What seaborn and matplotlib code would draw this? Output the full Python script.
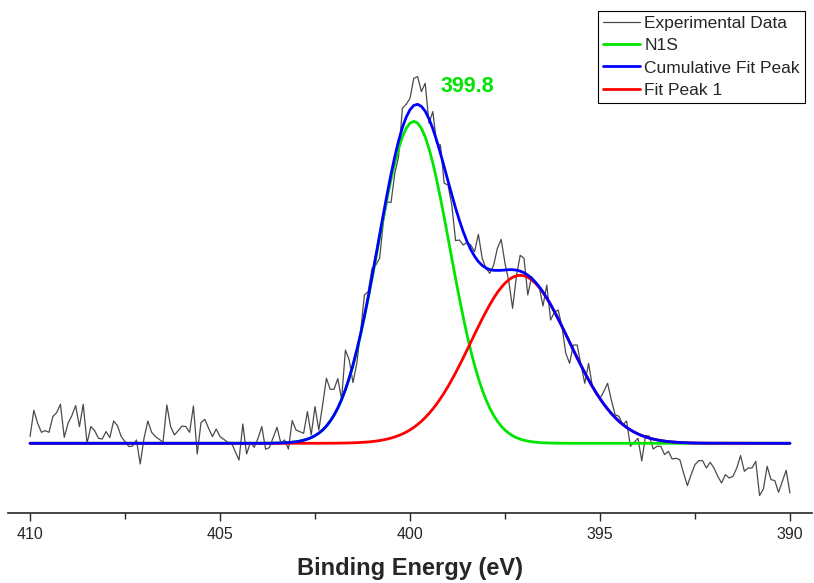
import numpy as np
import pandas as pd
import seaborn as sns
import matplotlib.pyplot as plt
from matplotlib.ticker import MultipleLocator

# Experimental N1s spectrum, 410 -> 390 eV in 0.1 eV steps (intensity, arbitrary units)
energy = np.round(np.linspace(410, 390, 201), 1)
intensity = [
    6.7, 33, 20, 11, 12.7, 11, 26.7, 30.7, 39, 6,
    20, 27.7, 37.7, 16.7, 39, 0, 16.7, 12.7, 5, 4.3,
    11.7, 5.7, 22.3, 17.7, 6.7, 1.7, -3.3, -2.7, 3.3, -20.7,
    5, 22.3, 11, 6.7, 4, 1, 38.3, 16.7, 8.3, 12.7,
    17.3, 16.7, 11, 37.3, -10.7, 20.7, 24, 15, 6.7, 14.3,
    6.7, 4, 1, 0.7, -8.3, -16.7, 19.3, -10.7, 1, -4,
    5, 16.7, -6, -4.3, 6, 16, 0.3, 3.3, -5.7, 22.7,
    13.3, 11.7, 10, 31.7, 8.3, 36.7, 13.3, 38.3, 65, 54,
    54, 64.7, 44, 93.3, 83.3, 60.7, 80, 111.7, 148.3, 151.7,
    175, 178.3, 185, 221.7, 241.7, 240.7, 270, 287, 335, 339,
    345, 365, 366.7, 351.7, 360, 320, 331.7, 300, 298.3, 260,
    258.3, 238.3, 202.7, 203.3, 198.3, 201, 198.3, 191.7, 209, 185,
    175, 170, 178, 195, 204, 180, 162, 135, 167, 188,
    185, 148.3, 166.7, 160, 156.7, 137.3, 158.3, 123.3, 131, 133.3,
    116.7, 90, 80, 98.3, 98.3, 78.3, 60, 80, 56.7, 49.3,
    45, 51.7, 60, 43, 28.5, 27, 18.5, 22.3, -3, 1,
    5, -17.7, 7.7, 7.2, -5.7, -3, -3, -11.3, -8, -15.7,
    -15, -16.3, -29.7, -42.3, -31.3, -21.3, -17.3, -17.3, -24.7, -19,
    -24.7, -33, -39.7, -31.3, -34.7, -33, -24.7, -12.3, -28, -24.7,
    -24.7, -18, -52.3, -45.7, -23, -36.3, -37.3, -49, -38, -27,
    -49.7,
]

# Fitted components, 404.1 -> 392.1 eV in 0.1 eV steps, with flat ends at 410 and 390
fit_energy = np.concatenate([[410.0], np.round(np.linspace(404.1, 392.1, 121), 1), [390.0]])
n1s_fit = [0] + [
    0.02, 0.03, 0.05, 0.07, 0.11, 0.16, 0.25, 0.36, 0.53, 0.77,
    1.1, 1.57, 2.2, 3.05, 4.2, 5.67, 7.6, 10.1, 13.2, 17.2,
    22.1, 28.0, 35.1, 43.6, 53.5, 64.9, 78.0, 92.6, 108.7, 126.3,
    145.0, 164.7, 185.1, 205.6, 225.9, 245.4, 263.8, 280.4, 294.7, 306.4,
    314.9, 320.2, 322.0, 320.2, 314.9, 306.4, 294.7, 280.4, 263.8, 245.4,
    225.9, 205.6, 185.1, 164.7, 145.0, 126.3, 108.7, 92.6, 78.0, 64.9,
    53.5, 43.6, 35.1, 28.0, 22.1, 17.2, 13.2, 10.1, 7.6, 5.67,
    4.2, 3.05, 2.2, 1.57, 1.1, 0.77, 0.53, 0.36, 0.25, 0.16,
    0.11, 0.07, 0.05, 0.03, 0.02, 0, 0, 0, 0, 0,
    0, 0, 0, 0, 0, 0, 0, 0, 0, 0,
    0, 0, 0, 0, 0, 0, 0, 0, 0, 0,
    0, 0, 0, 0, 0, 0, 0, 0, 0, 0,
    0,
] + [0]
peak1_fit = [0] + [
    0, 0, 0, 0, 0, 0, 0, 0, 0, 0,
    0, 0.01, 0.01, 0.01, 0.01, 0.02, 0.03, 0.04, 0.05, 0.07,
    0.09, 0.12, 0.17, 0.22, 0.29, 0.38, 0.50, 0.65, 0.84, 1.08,
    1.37, 1.74, 2.19, 2.75, 3.42, 4.23, 5.21, 6.37, 7.74, 9.36,
    11.2, 13.4, 15.9, 18.8, 22.0, 25.7, 29.8, 34.3, 39.2, 44.7,
    50.5, 56.8, 63.5, 70.5, 77.9, 85.4, 93.2, 101.1, 109.0, 116.8,
    124.4, 131.7, 138.6, 145.0, 150.8, 155.8, 160.1, 163.5, 166.0, 167.5,
    168.0, 167.5, 166.0, 163.5, 160.1, 155.8, 150.8, 145.0, 138.6, 131.7,
    124.4, 116.8, 109.0, 101.1, 93.2, 85.4, 77.9, 70.5, 63.5, 56.8,
    50.5, 44.7, 39.2, 34.3, 29.8, 25.7, 22.0, 18.8, 15.9, 13.4,
    11.2, 9.36, 7.74, 6.37, 5.21, 4.23, 3.42, 2.75, 2.19, 1.74,
    1.37, 1.08, 0.84, 0.65, 0.50, 0.38, 0.29, 0.22, 0.17, 0.12,
    0.09,
] + [0]
cumulative_fit = np.array(n1s_fit) + np.array(peak1_fit)

peak_label = "399.8"

exp_df = pd.DataFrame({"energy": energy, "intensity": intensity})
fit_df = pd.DataFrame({"energy": fit_energy, "n1s": n1s_fit,
                       "peak1": peak1_fit, "cum": cumulative_fit})

sns.set_style("ticks")
plt.rcParams["font.family"] = ["Liberation Sans", "DejaVu Sans"]

W, H = 814, 583
fig = plt.figure(figsize=(W / 100, H / 100), dpi=100)
ax = fig.add_axes([8 / W, (H - 513) / H, 804 / W, (513 - 10) / H])

green = "#00e600"
sns.lineplot(data=exp_df, x="energy", y="intensity", ax=ax, color="#4a4a4a",
             lw=0.9, sort=False, label="Experimental Data")
sns.lineplot(data=fit_df, x="energy", y="n1s", ax=ax, color=green,
             lw=2, sort=False, label="N1S")
sns.lineplot(data=fit_df, x="energy", y="peak1", ax=ax, color="#ff0000",
             lw=2, sort=False, label="Fit Peak 1")
sns.lineplot(data=fit_df, x="energy", y="cum", ax=ax, color="#0000ff",
             lw=2, sort=False, label="Cumulative Fit Peak")

ax.set_xlim(410.58, 389.42)
ax.set_ylim(-69.7, 433.3)

for s in ["top", "left", "right"]:
    ax.spines[s].set_visible(False)
ax.spines["bottom"].set_linewidth(1.2)
ax.set_yticks([])
ax.set_ylabel("")
ax.xaxis.set_major_locator(MultipleLocator(5))
ax.xaxis.set_minor_locator(MultipleLocator(2.5))
ax.tick_params(axis="x", which="major", length=6, width=1, labelsize=11.5, pad=4)
ax.tick_params(axis="x", which="minor", length=4, width=1)
ax.set_xlabel("Binding Energy (eV)", fontsize=17, fontweight="bold", labelpad=11)

ax.text(398.49, 357, peak_label, color=green, fontsize=15.5, fontweight="bold",
        ha="center", va="center")

# legend order as in the original: data, N1S, cumulative, peak 1
handles, labels = ax.get_legend_handles_labels()
order = [0, 1, 3, 2]
leg = ax.legend([handles[i] for i in order], [labels[i] for i in order],
                loc="upper right", bbox_to_anchor=(805 / W, 1 - 11 / H),
                bbox_transform=fig.transFigure, borderaxespad=0,
                fontsize=12.5, frameon=True, fancybox=False, framealpha=1,
                edgecolor="black", borderpad=0.3, labelspacing=0.4,
                handlelength=2.1, handletextpad=0.25)
leg.get_frame().set_linewidth(0.8)

fig.savefig("out.png", dpi=100)
